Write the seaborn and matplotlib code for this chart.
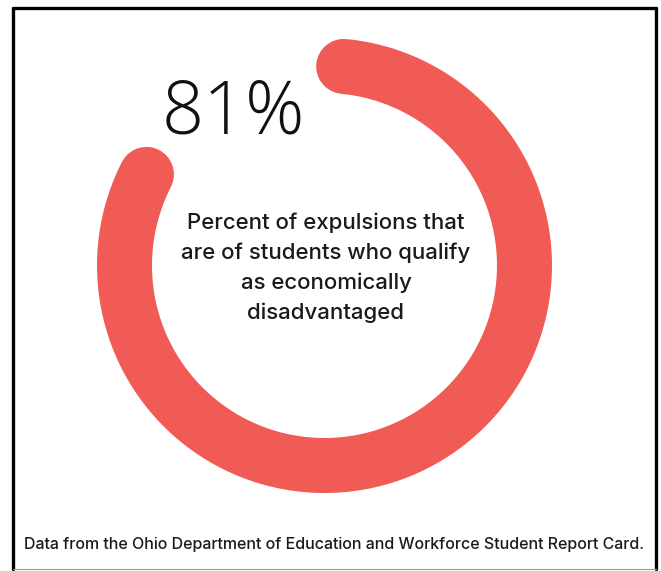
import numpy as np
import pandas as pd
import seaborn as sns
import matplotlib.pyplot as plt
from matplotlib.lines import Line2D

# Figure content
share_pct = 81
headline = f"{share_pct}%"
caption_lines = [
    "Percent of expulsions that",
    "are of students who qualify",
    "as economically",
    "disadvantaged",
]
source_note = "Data from the Ohio Department of Education and Workforce Student Report Card."

RING_COLOR = "#F15B55"
W, H = 661, 571

sns.set_theme(style="white")
plt.rcParams["font.family"] = ["Inter", "DejaVu Sans"]

fig = plt.figure(figsize=(W / 100, H / 100), dpi=100)
fig.patch.set_facecolor("white")

# Polar axes centred on the ring; r = 1 is the middle of the band
cx, cy, half = 324.5, H - 265.5, 250
ax = fig.add_axes([(cx - half) / W, (cy - half) / H, 2 * half / W, 2 * half / H],
                  projection="polar")
ax.set_theta_zero_location("N")
ax.set_theta_direction(-1)
ax.set_ylim(0, 1.25)
ax.set_axis_off()

start = np.deg2rad(5.5)
theta = np.linspace(start, start + 2 * np.pi * share_pct / 100, 500)
ring = pd.DataFrame({"theta": theta, "r": np.ones_like(theta)})
sns.lineplot(data=ring, x="theta", y="r", ax=ax, sort=False, color=RING_COLOR,
             linewidth=55 * 72 / 100, solid_capstyle="round")
ax.set_xlabel("")
ax.set_ylabel("")

# Headline number
fig.text(233 / W, 1 - 115 / H, headline, ha="center", va="center",
         fontsize=53, family=["Open Sans", "DejaVu Sans"], fontweight="light",
         color="#111111")

# Caption inside the ring
for i, line in enumerate(caption_lines):
    fig.text(326 / W, 1 - (223 + 30 * i) / H, line, ha="center", va="center",
             fontsize=16.0, fontweight="medium", color="#1a1a1a")

# Source note
fig.text(334 / W, 1 - 545 / H, source_note, ha="center", va="center",
         fontsize=11.5, fontweight="medium", color="#1a1a1a")

# Frame
frame = dict(transform=fig.transFigure, color="black", linewidth=2.4)
fig.add_artist(Line2D([13.5 / W, 656 / W], [1 - 7.5 / H, 1 - 7.5 / H], **frame))
fig.add_artist(Line2D([13.5 / W, 13.5 / W], [1 - 7.5 / H, 1 - 569 / H], **frame))
fig.add_artist(Line2D([656 / W, 656 / W], [1 - 7.5 / H, 1 - 569 / H], **frame))
fig.add_artist(Line2D([13.5 / W, 656 / W], [1 - 569 / H, 1 - 569 / H],
                      transform=fig.transFigure, color="#999999", linewidth=0.8))

fig.savefig("out.png", dpi=100, facecolor="white")
